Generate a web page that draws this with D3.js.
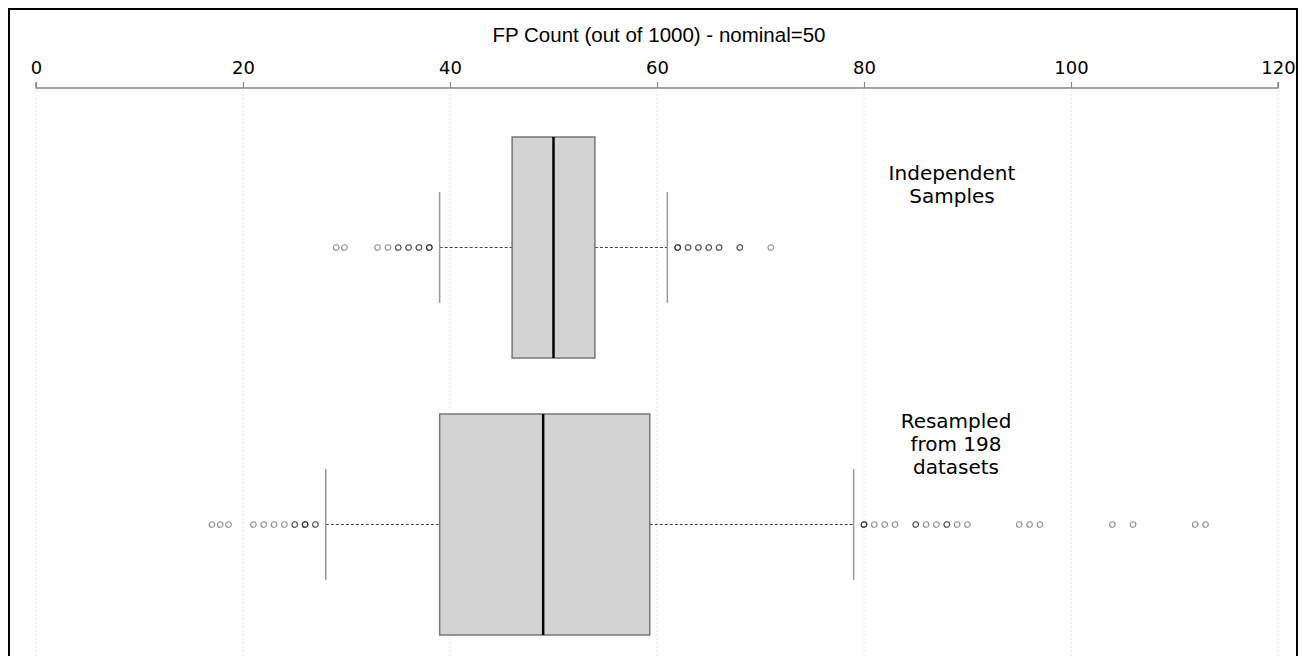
<!DOCTYPE html>
<html>
<head>
<meta charset="utf-8">
<script src="https://cdn.jsdelivr.net/npm/d3@7"></script>
<style>
  body { margin: 0; background: #fff; }
  svg { display: block; }
</style>
</head>
<body>
<div id="chart"></div>
<script>
// groups shown top to bottom
const groups = ['Independent', 'Resampled'];
const groupLabels = [['Independent', 'Samples'], ['Resampled', 'from 198', 'datasets']];

// box stats: lower whisker, Q1, median, Q3, upper whisker
const lowerWhisker = [39, 28];
const q1 = [46, 39];
const median = [50, 49];
const q3 = [54, 59.3];
const upperWhisker = [61, 79];

// outliers (repeated values overplot and look darker)
const outliersIndependent = [29, 29.8, 33, 34, 35, 35, 36, 36, 37, 37, 38, 38, 38,
  62, 62, 62, 63, 63, 64, 64, 65, 65, 66, 66, 68, 68, 71];
const outliersResampled = [17, 17.8, 18.6, 21, 22, 23, 24, 25, 25, 26, 26, 26, 27, 27,
  80, 80, 80, 81, 82, 83, 85, 85, 86, 87, 88, 88, 89, 90, 95, 96, 97, 104, 106, 112, 113];
const outliers = [outliersIndependent, outliersResampled];

const xTicks = [0, 20, 40, 60, 80, 100, 120];
const title = 'FP Count (out of 1000) - nominal=50';

const W = 1305, H = 656;
const svg = d3.select('#chart').append('svg')
  .attr('width', W).attr('height', H);

// x scale
const x = d3.scaleLinear().domain([0, 120]).range([36, 1278]);
// group centers
const y = d3.scalePoint().domain(groups).range([247.5, 524.5]);
const boxHalf = 110.5;
const capHalf = 55.5;
const axisY = 88;

// grid lines
svg.append('g')
  .selectAll('line')
  .data(xTicks)
  .enter().append('line')
    .attr('x1', d => x(d)).attr('x2', d => x(d))
    .attr('y1', axisY + 2).attr('y2', H)
    .attr('stroke', '#e6e6e6')
    .attr('stroke-width', 1)
    .attr('stroke-dasharray', '2,2');

// top axis
const axis = d3.axisTop(x).tickValues(xTicks).tickSize(6).tickPadding(8);
const axisG = svg.append('g')
  .attr('transform', 'translate(0,' + axisY + ')')
  .call(axis);
axisG.select('.domain').attr('stroke', '#888').attr('stroke-width', 1.5)
  .attr('d', 'M' + x(0) + ',-6V0H' + x(120) + 'V-6');
axisG.selectAll('.tick line').attr('stroke', '#888').attr('stroke-width', 1.2);
axisG.selectAll('.tick text')
  .attr('fill', '#000')
  .style('font-family', 'DejaVu Sans')
  .style('font-size', '18px');

// title
svg.append('text')
  .attr('x', 659).attr('y', 42)
  .attr('text-anchor', 'middle')
  .style('font-family', 'Liberation Sans, Arial, sans-serif')
  .style('font-size', '20.5px')
  .text(title);

// one group per box
const boxes = svg.append('g')
  .selectAll('g')
  .data(groups)
  .enter().append('g')
    .attr('transform', d => 'translate(0,' + y(d) + ')');

// whisker lines
boxes.append('line')
  .attr('x1', (d, i) => x(lowerWhisker[i])).attr('x2', (d, i) => x(q1[i]))
  .attr('stroke', '#444').attr('stroke-dasharray', '3,2');
boxes.append('line')
  .attr('x1', (d, i) => x(q3[i])).attr('x2', (d, i) => x(upperWhisker[i]))
  .attr('stroke', '#444').attr('stroke-dasharray', '3,2');

// whisker caps
boxes.append('line')
  .attr('x1', (d, i) => x(lowerWhisker[i])).attr('x2', (d, i) => x(lowerWhisker[i]))
  .attr('y1', -capHalf).attr('y2', capHalf)
  .attr('stroke', '#999').attr('stroke-width', 1.5);
boxes.append('line')
  .attr('x1', (d, i) => x(upperWhisker[i])).attr('x2', (d, i) => x(upperWhisker[i]))
  .attr('y1', -capHalf).attr('y2', capHalf)
  .attr('stroke', '#999').attr('stroke-width', 1.5);

// box
boxes.append('rect')
  .attr('x', (d, i) => x(q1[i]))
  .attr('width', (d, i) => x(q3[i]) - x(q1[i]))
  .attr('y', -boxHalf).attr('height', boxHalf * 2)
  .attr('fill', '#d3d3d3')
  .attr('stroke', '#777').attr('stroke-width', 1.5);

// median
boxes.append('line')
  .attr('x1', (d, i) => x(median[i])).attr('x2', (d, i) => x(median[i]))
  .attr('y1', -boxHalf).attr('y2', boxHalf)
  .attr('stroke', '#000').attr('stroke-width', 2.5);

// outliers
boxes.each(function(d, i) {
  d3.select(this).selectAll('circle')
    .data(outliers[i])
    .enter().append('circle')
      .attr('cx', v => x(v)).attr('cy', 0)
      .attr('r', 2.8)
      .attr('fill', 'none')
      .attr('stroke', '#000')
      .attr('stroke-opacity', 0.45)
      .attr('stroke-width', 1.1);
});

// group labels
boxes.each(function(d, i) {
  const lines = groupLabels[i];
  const lineH = 23;
  const top = i === 0 ? -68 : -97;
  d3.select(this).append('text')
    .attr('text-anchor', 'middle')
    .style('font-family', 'DejaVu Sans')
    .style('font-size', '20px')
    .selectAll('tspan')
    .data(lines)
    .enter().append('tspan')
      .attr('x', i === 0 ? 952 : 956)
      .attr('y', (l, j) => top + j * lineH)
      .text(l => l);
});

// frame
svg.append('rect')
  .attr('x', 9).attr('y', 9)
  .attr('width', 1288).attr('height', 700)
  .attr('fill', 'none')
  .attr('stroke', '#000').attr('stroke-width', 2);
</script>
</body>
</html>
